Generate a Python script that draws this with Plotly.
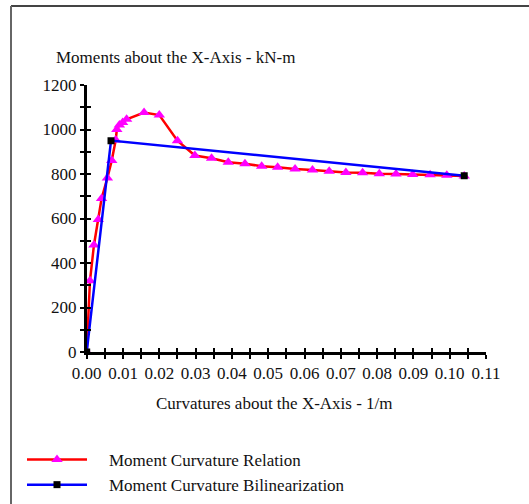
import plotly.graph_objects as go

# Moment-curvature relation (curvature 1/m, moment kN-m)
curvature_relation = [0.0, 0.0009, 0.0020, 0.0032, 0.0041, 0.0057, 0.0069, 0.0080,
                      0.0083, 0.0090, 0.0099, 0.0110, 0.0158, 0.0200, 0.0250, 0.0298,
                      0.0344, 0.0390, 0.0436, 0.0482, 0.0526, 0.0574, 0.0622, 0.0668,
                      0.0714, 0.0760, 0.0806, 0.0852, 0.0898, 0.0946, 0.0992, 0.1040]
moment_relation = [0, 320, 481, 595, 690, 782, 861, 953,
                   1000, 1020, 1031, 1046, 1076, 1065, 950, 883,
                   871, 853, 846, 835, 830, 822, 818, 812,
                   807, 806, 801, 800, 798, 797, 794, 791]

# Bilinear idealisation
curvature_bilinear = [0.0, 0.0067, 0.1040]
moment_bilinear = [0, 950, 792]

x_ticks = [i * 0.005 for i in range(23)]
x_labels = [f"{v:.2f}" if i % 2 == 0 else "" for i, v in enumerate(x_ticks)]
y_ticks = list(range(0, 1201, 100))
y_labels = [str(v) if v % 200 == 0 else "" for v in y_ticks]

W, H = 529, 504
x0_px, x1_px = 86.7, 486.0
y0_px, y1_px = 352.0, 85.0

serif = "Liberation Serif, Times New Roman, serif"
FS = 17
PAD = "\u00a0\u00a0\u00a0\u00a0"  # gap between legend sample and its label

fig = go.Figure()
fig.add_trace(go.Scatter(
    x=curvature_relation, y=moment_relation, mode="lines+markers",
    name=PAD + "Moment Curvature Relation",
    line=dict(color="#ff0000", width=2.5),
    marker=dict(symbol="triangle-up", size=10, color="#ff00ff"),
))
fig.add_trace(go.Scatter(
    x=curvature_bilinear, y=moment_bilinear, mode="lines+markers",
    name=PAD + "Moment Curvature Bilinearization",
    line=dict(color="#0000ff", width=2.5),
    marker=dict(symbol="square", size=7, color="#000000"),
))
# invisible trace on the overlay axes so the inner tick halves are drawn
fig.add_trace(go.Scatter(x=[0], y=[0], xaxis="x2", yaxis="y2", mode="markers",
                         marker=dict(opacity=0), showlegend=False, hoverinfo="skip"))

xdom = [x0_px / W, x1_px / W]
ydom = [1 - y0_px / H, 1 - y1_px / H]

axis_common = dict(showgrid=False, zeroline=False, showline=True, linecolor="black",
                   linewidth=2.5, tickcolor="black", tickwidth=2, ticklen=4,
                   automargin=False,
                   tickfont=dict(family=serif, size=FS, color="#111111"))
overlay_common = dict(showgrid=False, zeroline=False, showline=False, automargin=False,
                      tickcolor="black", tickwidth=2, ticklen=4, ticks="inside",
                      tickmode="array")

fig.update_layout(
    template="none",
    width=W, height=H,
    margin=dict(l=0, r=0, t=0, b=0, autoexpand=False),
    paper_bgcolor="white", plot_bgcolor="white",
    xaxis=dict(domain=xdom, range=[0, 0.11], tickmode="array", tickvals=x_ticks,
               ticktext=x_labels, ticks="outside", anchor="y", **axis_common),
    yaxis=dict(domain=ydom, range=[0, 1200], tickmode="array", tickvals=y_ticks,
               ticktext=y_labels, ticks="outside", anchor="x", **axis_common),
    xaxis2=dict(domain=xdom, range=[0, 0.11], tickvals=x_ticks,
                ticktext=["" for _ in x_ticks], overlaying="x", anchor="y2",
                **overlay_common),
    yaxis2=dict(domain=ydom, range=[0, 1200], tickvals=y_ticks,
                ticktext=["" for _ in y_ticks], overlaying="y", anchor="x2",
                **overlay_common),
    showlegend=True,
    legend=dict(x=22 / W, y=1 - 442 / H, xanchor="left", yanchor="top",
                font=dict(family=serif, size=FS, color="#111111"),
                bgcolor="rgba(0,0,0,0)", borderwidth=0, tracegroupgap=0, itemwidth=60),
    annotations=[
        dict(text="Moments about the X-Axis - kN-m", xref="paper", yref="paper",
             x=54 / W, y=1 - 57 / H, xanchor="left", yanchor="middle", showarrow=False,
             font=dict(family=serif, size=FS, color="#111111")),
        dict(text="Curvatures about the X-Axis - 1/m", xref="paper", yref="paper",
             x=274 / W, y=1 - 403 / H, xanchor="center", yanchor="middle", showarrow=False,
             font=dict(family=serif, size=FS, color="#111111")),
    ],
    shapes=[
        dict(type="line", xref="paper", yref="paper", x0=11 / W, x1=1, y0=1 - 6 / H,
             y1=1 - 6 / H, line=dict(color="#444444", width=2)),
        dict(type="line", xref="paper", yref="paper", x0=11 / W, x1=11 / W, y0=0,
             y1=1 - 6 / H, line=dict(color="#666666", width=2)),
    ],
)

fig.write_html("out.html")
